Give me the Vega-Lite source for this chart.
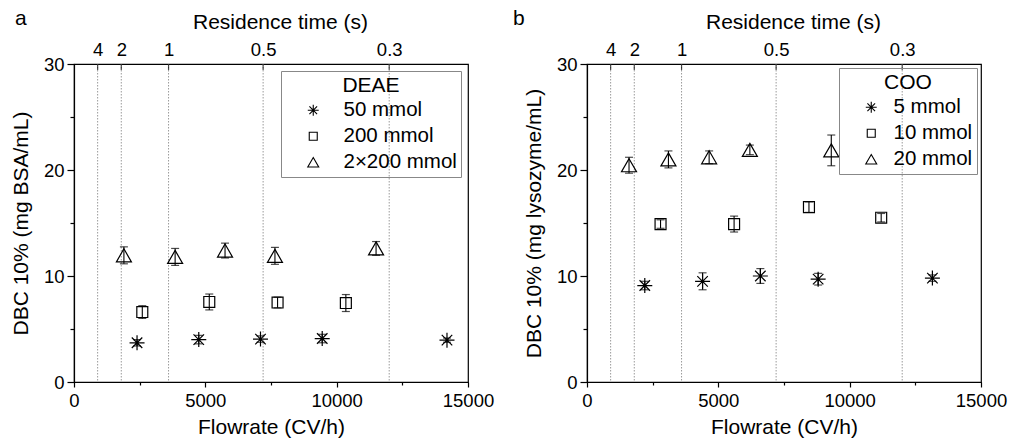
{
  "$schema": "https://vega.github.io/schema/vega-lite/v6.json",
  "padding": {"left": 9, "top": 7, "right": 0, "bottom": 0},
  "spacing": 17,
  "resolve": {"scale": {"shape": "independent"}, "legend": {"shape": "independent"}},
  "config": {
    "font": "Liberation Sans",
    "view": {"stroke": "black", "strokeWidth": 1.2},
    "axis": {"domainColor": "black", "domainWidth": 1.2, "tickColor": "black", "tickWidth": 1.2, "labelColor": "black", "titleColor": "black", "labelFontSize": 18.5, "titleFontSize": 21, "titleFontWeight": "normal", "grid": false, "format": "d"},
    "legend": {"strokeColor": "#888888", "padding": 4, "titleFontSize": 21, "titleFontWeight": "normal", "titleColor": "black", "titlePadding": 4, "labelFontSize": 20.5, "labelColor": "black", "titleAnchor": "middle", "symbolOffset": 18, "labelOffset": 20, "rowPadding": 5, "symbolStrokeColor": "black", "symbolFillColor": "transparent", "symbolStrokeWidth": 1.1, "symbolSize": 120},
    "title": {"fontSize": 21, "fontWeight": "normal", "color": "black"}
  },
  "datasets": {
    "rt": [
      {"t": "4", "flow": 900},
      {"t": "2", "flow": 1800},
      {"t": "1", "flow": 3600},
      {"t": "0.5", "flow": 7200},
      {"t": "0.3", "flow": 12000}
    ],
    "deae": [
      {"series": "50 mmol", "flow": 2400, "dbc": 3.7, "lo": 3.4, "hi": 4.0},
      {"series": "50 mmol", "flow": 4750, "dbc": 4.0, "lo": 3.6, "hi": 4.4},
      {"series": "50 mmol", "flow": 7100, "dbc": 4.05, "lo": 3.75, "hi": 4.35},
      {"series": "50 mmol", "flow": 9450, "dbc": 4.1, "lo": 3.7, "hi": 4.5},
      {"series": "50 mmol", "flow": 14200, "dbc": 3.95, "lo": 3.75, "hi": 4.15},
      {"series": "200 mmol", "flow": 2600, "dbc": 6.6, "lo": 6.0, "hi": 7.2},
      {"series": "200 mmol", "flow": 5150, "dbc": 7.55, "lo": 6.8, "hi": 8.3},
      {"series": "200 mmol", "flow": 7750, "dbc": 7.5, "lo": 7.0, "hi": 8.0},
      {"series": "200 mmol", "flow": 10350, "dbc": 7.45, "lo": 6.65, "hi": 8.25},
      {"series": "2×200 mmol", "flow": 1900, "dbc": 11.95, "lo": 11.15, "hi": 12.75},
      {"series": "2×200 mmol", "flow": 3850, "dbc": 11.8, "lo": 11.0, "hi": 12.6},
      {"series": "2×200 mmol", "flow": 5750, "dbc": 12.4, "lo": 11.7, "hi": 13.1},
      {"series": "2×200 mmol", "flow": 7650, "dbc": 11.9, "lo": 11.1, "hi": 12.7},
      {"series": "2×200 mmol", "flow": 11500, "dbc": 12.6, "lo": 11.95, "hi": 13.25}
    ],
    "coo": [
      {"series": "5 mmol", "flow": 2200, "dbc": 9.1, "lo": 8.7, "hi": 9.5},
      {"series": "5 mmol", "flow": 4400, "dbc": 9.5, "lo": 8.7, "hi": 10.3},
      {"series": "5 mmol", "flow": 6600, "dbc": 10.0, "lo": 9.3, "hi": 10.7},
      {"series": "5 mmol", "flow": 8800, "dbc": 9.7, "lo": 9.15, "hi": 10.25},
      {"series": "5 mmol", "flow": 13150, "dbc": 9.8, "lo": 9.5, "hi": 10.1},
      {"series": "10 mmol", "flow": 2800, "dbc": 14.9, "lo": 14.5, "hi": 15.3},
      {"series": "10 mmol", "flow": 5600, "dbc": 14.9, "lo": 14.15, "hi": 15.65},
      {"series": "10 mmol", "flow": 8450, "dbc": 16.5, "lo": 16.0, "hi": 17.0},
      {"series": "10 mmol", "flow": 11200, "dbc": 15.5, "lo": 15.1, "hi": 15.9},
      {"series": "20 mmol", "flow": 1600, "dbc": 20.45, "lo": 19.7, "hi": 21.2},
      {"series": "20 mmol", "flow": 3100, "dbc": 21.0, "lo": 20.2, "hi": 21.8},
      {"series": "20 mmol", "flow": 4650, "dbc": 21.2, "lo": 20.6, "hi": 21.8},
      {"series": "20 mmol", "flow": 6200, "dbc": 21.9, "lo": 21.45, "hi": 22.35},
      {"series": "20 mmol", "flow": 9300, "dbc": 21.85, "lo": 20.4, "hi": 23.3}
    ]
  },
  "hconcat": [
    {
      "title": {"text": "a", "anchor": "start", "frame": "group", "dx": -59, "offset": -18},
      "width": 394,
      "height": 318,
      "data": {"name": "deae"},
      "layer": [
        {
          "data": {"name": "rt"},
          "mark": {"type": "rule", "color": "#9a9a9a", "strokeWidth": 1, "strokeDash": [1.5, 1.5]},
          "encoding": {
            "x": {"field": "flow", "type": "quantitative", "scale": {"domain": [0, 15000], "nice": false},
              "axis": {"orient": "top", "values": [900, 1800, 3600, 7200, 12000], "labelExpr": "datum.value == 900 ? '4' : datum.value == 1800 ? '2' : datum.value == 3600 ? '1' : datum.value == 7200 ? '0.5' : '0.3'", "title": "Residence time (s)", "titleX": 206, "ticks": false, "labelPadding": 5, "titlePadding": 8, "domain": false, "labelFlush": false}}
          }
        },
        {
          "data": {"name": "rt"},
          "mark": {"type": "tick", "orient": "vertical", "color": "black", "size": 12, "thickness": 1.2, "clip": true},
          "encoding": {
            "x": {"field": "flow", "type": "quantitative", "axis": null},
            "y": {"datum": 30, "type": "quantitative", "axis": null}
          }
        },
        {
          "mark": {"type": "rule", "color": "black", "strokeWidth": 1.1},
          "encoding": {
            "x": {"field": "flow", "type": "quantitative", "axis": {"orient": "bottom", "values": [2500, 7500, 12500], "labels": false, "domain": false, "tickSize": 3, "title": null}},
            "y": {"field": "lo", "type": "quantitative", "axis": {"orient": "left", "values": [5, 15, 25], "labels": false, "domain": false, "tickSize": 4, "title": null}},
            "y2": {"field": "hi"}
          }
        },
        {
          "mark": {"type": "tick", "orient": "horizontal", "color": "black", "size": 8, "thickness": 1.2},
          "encoding": {
            "x": {"field": "flow", "type": "quantitative", "axis": null},
            "y": {"field": "hi", "type": "quantitative", "axis": null}
          }
        },
        {
          "mark": {"type": "tick", "orient": "horizontal", "color": "black", "size": 8, "thickness": 1.2},
          "encoding": {
            "x": {"field": "flow", "type": "quantitative", "axis": null},
            "y": {"field": "lo", "type": "quantitative", "axis": null}
          }
        },
        {
          "mark": {"type": "point", "filled": false, "stroke": "black", "strokeWidth": 1.2, "opacity": 1, "size": 225},
          "encoding": {
            "x": {"field": "flow", "type": "quantitative", "title": "Flowrate (CV/h)", "axis": {"orient": "bottom", "values": [0, 5000, 10000, 15000], "tickSize": 5, "labelPadding": 4.5, "titlePadding": 6, "labelFlush": false}},
            "y": {"field": "dbc", "type": "quantitative", "scale": {"domain": [0, 30], "nice": false}, "title": "DBC 10% (mg BSA/mL)", "axis": {"orient": "left", "values": [0, 10, 20, 30], "tickSize": 7, "labelPadding": 3, "titlePadding": 12}},
            "shape": {"field": "series", "type": "nominal", "title": "DEAE",
              "scale": {"domain": ["50 mmol", "200 mmol", "2×200 mmol"], "range": ["M0,-1L0,1M-1,0L1,0M-0.7,-0.7L0.7,0.7M-0.7,0.7L0.7,-0.7", "M-0.73,-0.73L0.73,-0.73L0.73,0.73L-0.73,0.73Z", "M0,-0.87L1,0.87L-1,0.87Z"]},
              "legend": {"orient": "top-right", "offset": 7, "labelOffset": 20}}
          }
        }
      ],
      "resolve": {"axis": {"x": "independent", "y": "independent"}}
    },
    {
      "title": {"text": "b", "anchor": "start", "frame": "group", "dx": -74, "offset": -18},
      "width": 394,
      "height": 318,
      "data": {"name": "coo"},
      "layer": [
        {
          "data": {"name": "rt"},
          "mark": {"type": "rule", "color": "#9a9a9a", "strokeWidth": 1, "strokeDash": [1.5, 1.5]},
          "encoding": {
            "x": {"field": "flow", "type": "quantitative", "scale": {"domain": [0, 15000], "nice": false},
              "axis": {"orient": "top", "values": [900, 1800, 3600, 7200, 12000], "labelExpr": "datum.value == 900 ? '4' : datum.value == 1800 ? '2' : datum.value == 3600 ? '1' : datum.value == 7200 ? '0.5' : '0.3'", "title": "Residence time (s)", "titleX": 206, "ticks": false, "labelPadding": 5, "titlePadding": 8, "domain": false, "labelFlush": false}}
          }
        },
        {
          "data": {"name": "rt"},
          "mark": {"type": "tick", "orient": "vertical", "color": "black", "size": 12, "thickness": 1.2, "clip": true},
          "encoding": {
            "x": {"field": "flow", "type": "quantitative", "axis": null},
            "y": {"datum": 30, "type": "quantitative", "axis": null}
          }
        },
        {
          "mark": {"type": "rule", "color": "black", "strokeWidth": 1.1},
          "encoding": {
            "x": {"field": "flow", "type": "quantitative", "axis": {"orient": "bottom", "values": [2500, 7500, 12500], "labels": false, "domain": false, "tickSize": 3, "title": null}},
            "y": {"field": "lo", "type": "quantitative", "axis": {"orient": "left", "values": [5, 15, 25], "labels": false, "domain": false, "tickSize": 4, "title": null}},
            "y2": {"field": "hi"}
          }
        },
        {
          "mark": {"type": "tick", "orient": "horizontal", "color": "black", "size": 8, "thickness": 1.2},
          "encoding": {
            "x": {"field": "flow", "type": "quantitative", "axis": null},
            "y": {"field": "hi", "type": "quantitative", "axis": null}
          }
        },
        {
          "mark": {"type": "tick", "orient": "horizontal", "color": "black", "size": 8, "thickness": 1.2},
          "encoding": {
            "x": {"field": "flow", "type": "quantitative", "axis": null},
            "y": {"field": "lo", "type": "quantitative", "axis": null}
          }
        },
        {
          "mark": {"type": "point", "filled": false, "stroke": "black", "strokeWidth": 1.2, "opacity": 1, "size": 225},
          "encoding": {
            "x": {"field": "flow", "type": "quantitative", "title": "Flowrate (CV/h)", "axis": {"orient": "bottom", "values": [0, 5000, 10000, 15000], "tickSize": 5, "labelPadding": 4.5, "titlePadding": 6, "labelFlush": false}},
            "y": {"field": "dbc", "type": "quantitative", "scale": {"domain": [0, 30], "nice": false}, "title": "DBC 10% (mg lysozyme/mL)", "axis": {"orient": "left", "values": [0, 10, 20, 30], "tickSize": 7, "labelPadding": 3, "titlePadding": 12}},
            "shape": {"field": "series", "type": "nominal", "title": "COO",
              "scale": {"domain": ["5 mmol", "10 mmol", "20 mmol"], "range": ["M0,-1L0,1M-1,0L1,0M-0.7,-0.7L0.7,0.7M-0.7,0.7L0.7,-0.7", "M-0.73,-0.73L0.73,-0.73L0.73,0.73L-0.73,0.73Z", "M0,-0.87L1,0.87L-1,0.87Z"]},
              "legend": {"orient": "top-right", "offset": 4, "labelOffset": 12}}
          }
        }
      ],
      "resolve": {"axis": {"x": "independent", "y": "independent"}}
    }
  ]
}
